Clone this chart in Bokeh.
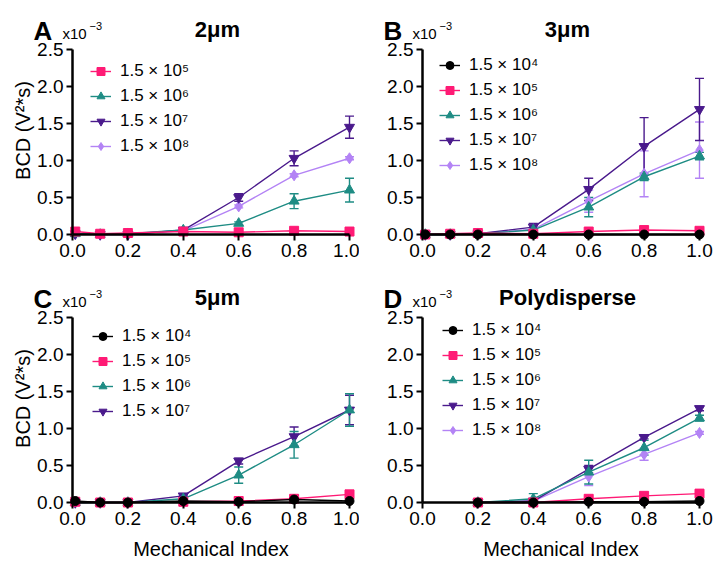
from bokeh.plotting import figure
from bokeh.layouts import row, column
from bokeh.models import (Range1d, FixedTicker, PrintfTickFormatter, Label, Legend,
                          LegendItem, Whisker, TeeHead, ColumnDataSource)
from bokeh.embed import file_html
from bokeh.resources import INLINE

FONT = "Liberation Sans"

# ---------------- data (BCD, x10^-3 V^2*s) ----------------
mi_full = [0.01, 0.1, 0.2, 0.4, 0.6, 0.8, 1.0]
mi_poly = [0.2, 0.4, 0.6, 0.8, 1.0]

x_ticks = [0.0, 0.2, 0.4, 0.6, 0.8, 1.0]
y_ticks = [0.0, 0.5, 1.0, 1.5, 2.0, 2.5]

labels = {"e4": "1.5 × 10⁴", "e5": "1.5 × 10⁵", "e6": "1.5 × 10⁶",
          "e7": "1.5 × 10⁷", "e8": "1.5 × 10⁸"}

# 2 um
a_e5 = [0.04, 0.01, 0.02, 0.04, 0.03, 0.05, 0.04]
a_e6 = [0.01, 0.00, 0.01, 0.06, 0.15, 0.45, 0.60]
a_e6_err = [0, 0, 0, 0.01, 0.02, 0.10, 0.16]
a_e7 = [0.01, 0.00, 0.00, 0.06, 0.50, 1.03, 1.45]
a_e7_err = [0, 0, 0, 0.01, 0.05, 0.10, 0.15]
a_e8 = [0.01, 0.00, 0.01, 0.05, 0.38, 0.80, 1.03]
a_e8_err = [0, 0, 0, 0, 0.02, 0.02, 0.02]

# 3 um
b_e4 = [0.00, 0.00, 0.00, 0.00, 0.00, 0.00, 0.00]
b_e5 = [0.00, 0.01, 0.02, 0.01, 0.04, 0.06, 0.05]
b_e6 = [0.00, 0.00, 0.01, 0.06, 0.37, 0.78, 1.06]
b_e6_err = [0, 0, 0, 0.01, 0.13, 0.05, 0.05]
b_e7 = [0.00, 0.00, 0.01, 0.10, 0.61, 1.19, 1.69]
b_e7_err = [0, 0, 0, 0.05, 0.15, 0.39, 0.42]
b_e8 = [0.00, 0.00, 0.01, 0.07, 0.45, 0.82, 1.14]
b_e8_err = [0, 0, 0, 0.02, 0.15, 0.31, 0.38]

# 5 um
c_e4 = [0.02, 0.00, 0.00, 0.02, 0.01, 0.04, 0.02]
c_e5 = [0.01, 0.00, 0.00, 0.01, 0.02, 0.05, 0.11]
c_e6 = [0.00, 0.00, 0.00, 0.05, 0.37, 0.78, 1.25]
c_e6_err = [0, 0, 0, 0.01, 0.11, 0.18, 0.22]
c_e7 = [0.00, 0.00, 0.00, 0.09, 0.56, 0.89, 1.25]
c_e7_err = [0, 0, 0, 0.01, 0.04, 0.13, 0.20]

# Polydisperse
d_e4 = [0.00, 0.00, 0.01, 0.01, 0.02]
d_e5 = [0.00, 0.00, 0.05, 0.09, 0.12]
d_e6 = [0.00, 0.05, 0.41, 0.74, 1.14]
d_e6_err = [0, 0.07, 0.16, 0.10, 0.04]
d_e7 = [0.00, 0.02, 0.45, 0.88, 1.27]
d_e7_err = [0, 0, 0.05, 0.02, 0.03]
d_e8 = [0.00, 0.02, 0.35, 0.65, 0.94]
d_e8_err = [0, 0.01, 0.12, 0.08, 0.02]

styles = {
    "e4": dict(color="#000000", marker="circle", size=9),
    "e5": dict(color="#FF1A75", marker="square", size=9),
    "e6": dict(color="#1E8C84", marker="triangle", size=10),
    "e7": dict(color="#4A1A8C", marker="inverted_triangle", size=10),
    "e8": dict(color="#B383F5", marker="diamond", size=11),
}

XS = 277.0  # px per x unit
YS = 74.0   # px per y unit
W, H = 359, 283


def panel(x, series, letter, title, x0, y0, leg_dx, leg_dy, ylabel, xlabel):
    # x0: px from figure left to data x=0 ; y0: px from figure top to data y=0
    yb = H - y0  # px from figure bottom to data y=0
    p = figure(width=W, height=H, output_backend="svg", toolbar_location=None,
               x_range=Range1d(-x0 / XS, (W - x0) / XS),
               y_range=Range1d(-yb / YS, (H - yb) / YS),
               min_border_left=0, min_border_right=0,
               min_border_top=0, min_border_bottom=0)
    p.outline_line_color = None
    p.grid.visible = False
    p.background_fill_color = "white"
    p.border_fill_color = "white"

    for ax, ticks, bnds in ((p.xaxis, x_ticks, (0, 1)), (p.yaxis, y_ticks, (0, 2.5))):
        ax.ticker = FixedTicker(ticks=ticks)
        ax.formatter = PrintfTickFormatter(format="%.1f")
        ax.fixed_location = 0
        ax.bounds = bnds
        ax.axis_line_width = 2.5
        ax.axis_line_color = "black"
        ax.major_tick_line_width = 2
        ax.major_tick_line_color = "black"
        ax.major_tick_out = 6
        ax.major_tick_in = 0
        ax.minor_tick_out = 0
        ax.minor_tick_in = 0
        ax.major_label_text_font = FONT
        ax.major_label_text_font_size = "19px"
        ax.major_label_text_color = "black"
        ax.major_label_standoff = 3

    items = []
    for key, y, err in reversed(series):
        st = styles[key]
        src = ColumnDataSource(dict(x=x, y=y))
        lr = p.line("x", "y", source=src, line_color=st["color"], line_width=1.4)
        sr = p.scatter("x", "y", source=src, marker=st["marker"], size=st["size"],
                       fill_color=st["color"], line_color=st["color"])
        if err is not None:
            xs = [xi for xi, e in zip(x, err) if e > 0]
            lo = [yi - e for yi, e in zip(y, err) if e > 0]
            up = [yi + e for yi, e in zip(y, err) if e > 0]
            wsrc = ColumnDataSource(dict(x=xs, lower=lo, upper=up))
            w = Whisker(source=wsrc, base="x", lower="lower", upper="upper",
                        dimension="height", line_color=st["color"], line_width=1.4,
                        upper_head=TeeHead(size=9, line_color=st["color"], line_width=1.4),
                        lower_head=TeeHead(size=9, line_color=st["color"], line_width=1.4))
            p.add_layout(w)
        items.append(LegendItem(label=labels[key], renderers=[lr, sr]))
    items.reverse()

    n = len(items)
    leg_h = n * 20 + (n - 1) * 5
    leg = Legend(items=items, location=(x0 + leg_dx, yb + leg_dy + 10 - leg_h),
                 label_text_font=FONT, label_text_color="black",
                 label_text_font_size="17px", glyph_width=21, glyph_height=20,
                 label_height=20, label_standoff=9, spacing=5, padding=0, margin=0,
                 border_line_color=None, background_fill_alpha=0)
    p.add_layout(leg)

    def lab(dx, dy, text, **kw):
        p.add_layout(Label(x=x0 + dx, y=yb + dy, x_units="screen", y_units="screen",
                           text=text, text_font=FONT, text_color="black", **kw))

    lab(-39, 204, letter, text_font_style="bold", text_font_size="26px",
        text_baseline="alphabetic")
    lab(-10, 201, "x10", text_font_size="15px", text_baseline="alphabetic")
    lab(17, 209, "−3", text_font_size="11px", text_baseline="alphabetic")
    lab(145, 205, title, text_font_style="bold", text_font_size="22px",
        text_align="center", text_baseline="alphabetic")
    if ylabel:
        lab(-50, 104, "BCD (V²*s)", angle=1.5707963, text_font_size="20px",
            text_align="center", text_baseline="middle")
    if xlabel:
        lab(138.5, -46, "Mechanical Index", text_font_size="20px",
            text_align="center", text_baseline="middle")
    return p


pA = panel(mi_full, [("e5", a_e5, None), ("e6", a_e6, a_e6_err),
                     ("e7", a_e7, a_e7_err), ("e8", a_e8, a_e8_err)],
           "A", "2μm", 72, 234, 18, 163, True, False)
pB = panel(mi_full, [("e4", b_e4, None), ("e5", b_e5, None), ("e6", b_e6, b_e6_err),
                     ("e7", b_e7, b_e7_err), ("e8", b_e8, b_e8_err)],
           "B", "3μm", 63, 234, 17, 169, False, False)
pC = panel(mi_full, [("e4", c_e4, None), ("e5", c_e5, None), ("e6", c_e6, c_e6_err),
                     ("e7", c_e7, c_e7_err)],
           "C", "5μm", 72, 219, 20, 166, True, True)
pD = panel(mi_poly, [("e4", d_e4, None), ("e5", d_e5, None), ("e6", d_e6, d_e6_err),
                     ("e7", d_e7, d_e7_err), ("e8", d_e8, d_e8_err)],
           "D", "Polydisperse", 63, 219, 20, 172, False, True)

layout = column(row(pA, pB), row(pC, pD))
open("out.html", "w").write(file_html(layout, INLINE))
